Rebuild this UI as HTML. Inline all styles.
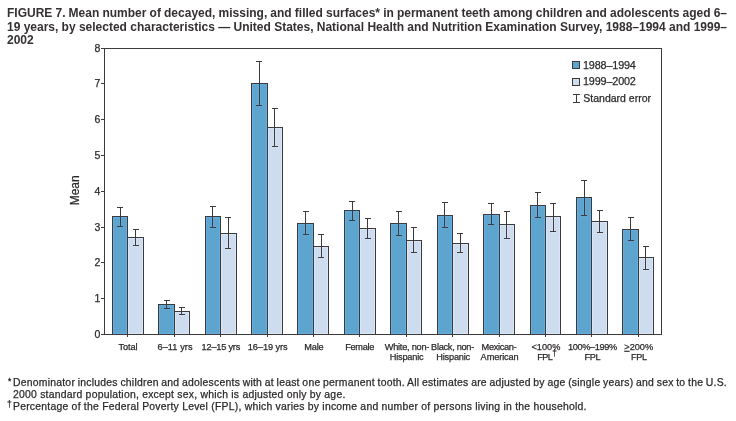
<!DOCTYPE html>
<html><head><meta charset="utf-8"><style>
html,body{margin:0;padding:0;background:#fff;width:736px;height:421px;overflow:hidden}
body{position:relative;font-family:"Liberation Sans",sans-serif;color:#2c292a;-webkit-font-smoothing:antialiased}
.title,.fn,.fm,svg{will-change:transform}
.title{color:#353132;position:absolute;left:7px;top:7.2px;width:720px;word-spacing:-0.5px;font-weight:bold;font-size:12px;line-height:13.5px;}
.j{text-align:justify;text-align-last:justify;white-space:nowrap}
.fn{position:absolute;left:13px;-webkit-text-stroke:0.25px #2c292a;width:714px;font-size:10.4px;letter-spacing:0.235px;line-height:11.8px}
.fm{position:absolute;left:7.5px;font-size:10px}
svg{position:absolute;left:0;top:0}
svg text{font-family:"Liberation Sans",sans-serif;fill:#2c292a}
.xl{font-size:9.2px;stroke:#2c292a;stroke-width:0.25px}
.yl{font-size:10.5px;stroke:#2c292a;stroke-width:0.25px}
.mean{font-size:12px;stroke:#2c292a;stroke-width:0.25px}
.lg{font-size:10.5px;stroke:#2c292a;stroke-width:0.25px}
.yr{font-size:10.8px;letter-spacing:-0.15px}
</style></head><body>
<div class="title"><div class="j">FIGURE 7. Mean number of decayed, missing, and filled surfaces* in permanent teeth among children and adolescents aged 6–</div><div class="j">19 years, by selected characteristics — United States, National Health and Nutrition Examination Survey, 1988–1994 and 1999–</div><div>2002</div></div>
<svg width="736" height="421" viewBox="0 0 736 421" shape-rendering="crispEdges">
<rect x="113" y="217" width="14" height="117" fill="#5da4cf"/>
<rect x="128" y="238" width="15" height="96" fill="#cddcee"/>
<rect x="113" y="217" width="1" height="117" fill="#63ade0"/>
<rect x="126" y="217" width="1" height="117" fill="#63ade0"/>
<rect x="128" y="238" width="1" height="96" fill="#d9e6f5"/>
<rect x="142" y="238" width="1" height="96" fill="#d9e6f5"/>
<rect x="113" y="217" width="14" height="1" fill="#63ade0"/>
<rect x="113" y="333" width="14" height="1" fill="#63ade0"/>
<rect x="128" y="238" width="15" height="1" fill="#d9e6f5"/>
<rect x="128" y="333" width="15" height="1" fill="#d9e6f5"/>
<rect x="112" y="216" width="1" height="119" fill="#3e393b"/>
<rect x="127" y="216" width="1" height="121" fill="#3e393b"/>
<rect x="143" y="237" width="1" height="98" fill="#3e393b"/>
<rect x="112" y="216" width="16" height="1" fill="#3e393b"/>
<rect x="127" y="237" width="17" height="1" fill="#3e393b"/>
<rect x="119" y="218" width="1" height="9" fill="#60a9d8"/>
<rect x="121" y="218" width="1" height="9" fill="#60a9d8"/>
<rect x="117" y="225" width="6" height="1" fill="#60a9d8"/>
<rect x="117" y="227" width="6" height="1" fill="#60a9d8"/>
<rect x="120" y="207" width="1" height="20" fill="#3e393b"/>
<rect x="117" y="207" width="6" height="1" fill="#3e393b"/>
<rect x="117" y="226" width="6" height="1" fill="#3e393b"/>
<rect x="134" y="239" width="1" height="7" fill="#d3e1f2"/>
<rect x="136" y="239" width="1" height="7" fill="#d3e1f2"/>
<rect x="133" y="244" width="6" height="1" fill="#d3e1f2"/>
<rect x="133" y="246" width="6" height="1" fill="#d3e1f2"/>
<rect x="135" y="229" width="1" height="17" fill="#3e393b"/>
<rect x="133" y="229" width="6" height="1" fill="#3e393b"/>
<rect x="133" y="245" width="6" height="1" fill="#3e393b"/>
<text x="128.05" y="349.9" text-anchor="middle" textLength="18.90" lengthAdjust="spacing" class="xl">Total</text>
<rect x="159" y="305" width="15" height="29" fill="#5da4cf"/>
<rect x="175" y="312" width="14" height="22" fill="#cddcee"/>
<rect x="159" y="305" width="1" height="29" fill="#63ade0"/>
<rect x="173" y="305" width="1" height="29" fill="#63ade0"/>
<rect x="175" y="312" width="1" height="22" fill="#d9e6f5"/>
<rect x="188" y="312" width="1" height="22" fill="#d9e6f5"/>
<rect x="159" y="305" width="15" height="1" fill="#63ade0"/>
<rect x="159" y="333" width="15" height="1" fill="#63ade0"/>
<rect x="175" y="312" width="14" height="1" fill="#d9e6f5"/>
<rect x="175" y="333" width="14" height="1" fill="#d9e6f5"/>
<rect x="158" y="304" width="1" height="31" fill="#3e393b"/>
<rect x="174" y="304" width="1" height="33" fill="#3e393b"/>
<rect x="189" y="311" width="1" height="24" fill="#3e393b"/>
<rect x="158" y="304" width="17" height="1" fill="#3e393b"/>
<rect x="174" y="311" width="16" height="1" fill="#3e393b"/>
<rect x="165" y="306" width="1" height="3" fill="#60a9d8"/>
<rect x="167" y="306" width="1" height="3" fill="#60a9d8"/>
<rect x="164" y="307" width="6" height="1" fill="#60a9d8"/>
<rect x="164" y="309" width="6" height="1" fill="#60a9d8"/>
<rect x="166" y="300" width="1" height="9" fill="#3e393b"/>
<rect x="164" y="300" width="6" height="1" fill="#3e393b"/>
<rect x="164" y="308" width="6" height="1" fill="#3e393b"/>
<rect x="180" y="313" width="1" height="2" fill="#d3e1f2"/>
<rect x="182" y="313" width="1" height="2" fill="#d3e1f2"/>
<rect x="179" y="313" width="6" height="1" fill="#d3e1f2"/>
<rect x="179" y="315" width="6" height="1" fill="#d3e1f2"/>
<rect x="181" y="307" width="1" height="8" fill="#3e393b"/>
<rect x="179" y="307" width="6" height="1" fill="#3e393b"/>
<rect x="179" y="314" width="6" height="1" fill="#3e393b"/>
<text x="175.00" y="349.9" text-anchor="middle" textLength="35.00" lengthAdjust="spacing" class="xl">6–11 yrs</text>
<rect x="206" y="217" width="14" height="117" fill="#5da4cf"/>
<rect x="221" y="234" width="15" height="100" fill="#cddcee"/>
<rect x="206" y="217" width="1" height="117" fill="#63ade0"/>
<rect x="219" y="217" width="1" height="117" fill="#63ade0"/>
<rect x="221" y="234" width="1" height="100" fill="#d9e6f5"/>
<rect x="235" y="234" width="1" height="100" fill="#d9e6f5"/>
<rect x="206" y="217" width="14" height="1" fill="#63ade0"/>
<rect x="206" y="333" width="14" height="1" fill="#63ade0"/>
<rect x="221" y="234" width="15" height="1" fill="#d9e6f5"/>
<rect x="221" y="333" width="15" height="1" fill="#d9e6f5"/>
<rect x="205" y="216" width="1" height="119" fill="#3e393b"/>
<rect x="220" y="216" width="1" height="121" fill="#3e393b"/>
<rect x="236" y="233" width="1" height="102" fill="#3e393b"/>
<rect x="205" y="216" width="16" height="1" fill="#3e393b"/>
<rect x="220" y="233" width="17" height="1" fill="#3e393b"/>
<rect x="211" y="218" width="1" height="10" fill="#60a9d8"/>
<rect x="213" y="218" width="1" height="10" fill="#60a9d8"/>
<rect x="210" y="226" width="6" height="1" fill="#60a9d8"/>
<rect x="210" y="228" width="6" height="1" fill="#60a9d8"/>
<rect x="212" y="206" width="1" height="22" fill="#3e393b"/>
<rect x="210" y="206" width="6" height="1" fill="#3e393b"/>
<rect x="210" y="227" width="6" height="1" fill="#3e393b"/>
<rect x="227" y="235" width="1" height="14" fill="#d3e1f2"/>
<rect x="229" y="235" width="1" height="14" fill="#d3e1f2"/>
<rect x="225" y="247" width="6" height="1" fill="#d3e1f2"/>
<rect x="225" y="249" width="6" height="1" fill="#d3e1f2"/>
<rect x="228" y="217" width="1" height="32" fill="#3e393b"/>
<rect x="225" y="217" width="6" height="1" fill="#3e393b"/>
<rect x="225" y="248" width="6" height="1" fill="#3e393b"/>
<text x="220.95" y="349.9" text-anchor="middle" textLength="38.70" lengthAdjust="spacing" class="xl">12–15 yrs</text>
<rect x="252" y="84" width="15" height="250" fill="#5da4cf"/>
<rect x="268" y="128" width="14" height="206" fill="#cddcee"/>
<rect x="252" y="84" width="1" height="250" fill="#63ade0"/>
<rect x="266" y="84" width="1" height="250" fill="#63ade0"/>
<rect x="268" y="128" width="1" height="206" fill="#d9e6f5"/>
<rect x="281" y="128" width="1" height="206" fill="#d9e6f5"/>
<rect x="252" y="84" width="15" height="1" fill="#63ade0"/>
<rect x="252" y="333" width="15" height="1" fill="#63ade0"/>
<rect x="268" y="128" width="14" height="1" fill="#d9e6f5"/>
<rect x="268" y="333" width="14" height="1" fill="#d9e6f5"/>
<rect x="251" y="83" width="1" height="252" fill="#3e393b"/>
<rect x="267" y="83" width="1" height="254" fill="#3e393b"/>
<rect x="282" y="127" width="1" height="208" fill="#3e393b"/>
<rect x="251" y="83" width="17" height="1" fill="#3e393b"/>
<rect x="267" y="127" width="16" height="1" fill="#3e393b"/>
<rect x="258" y="85" width="1" height="21" fill="#60a9d8"/>
<rect x="260" y="85" width="1" height="21" fill="#60a9d8"/>
<rect x="256" y="104" width="6" height="1" fill="#60a9d8"/>
<rect x="256" y="106" width="6" height="1" fill="#60a9d8"/>
<rect x="259" y="61" width="1" height="45" fill="#3e393b"/>
<rect x="256" y="61" width="6" height="1" fill="#3e393b"/>
<rect x="256" y="105" width="6" height="1" fill="#3e393b"/>
<rect x="273" y="129" width="1" height="18" fill="#d3e1f2"/>
<rect x="275" y="129" width="1" height="18" fill="#d3e1f2"/>
<rect x="272" y="145" width="6" height="1" fill="#d3e1f2"/>
<rect x="272" y="147" width="6" height="1" fill="#d3e1f2"/>
<rect x="274" y="108" width="1" height="39" fill="#3e393b"/>
<rect x="272" y="108" width="6" height="1" fill="#3e393b"/>
<rect x="272" y="146" width="6" height="1" fill="#3e393b"/>
<text x="267.70" y="349.9" text-anchor="middle" textLength="39.80" lengthAdjust="spacing" class="xl">16–19 yrs</text>
<rect x="298" y="224" width="15" height="110" fill="#5da4cf"/>
<rect x="314" y="247" width="14" height="87" fill="#cddcee"/>
<rect x="298" y="224" width="1" height="110" fill="#63ade0"/>
<rect x="312" y="224" width="1" height="110" fill="#63ade0"/>
<rect x="314" y="247" width="1" height="87" fill="#d9e6f5"/>
<rect x="327" y="247" width="1" height="87" fill="#d9e6f5"/>
<rect x="298" y="224" width="15" height="1" fill="#63ade0"/>
<rect x="298" y="333" width="15" height="1" fill="#63ade0"/>
<rect x="314" y="247" width="14" height="1" fill="#d9e6f5"/>
<rect x="314" y="333" width="14" height="1" fill="#d9e6f5"/>
<rect x="297" y="223" width="1" height="112" fill="#3e393b"/>
<rect x="313" y="223" width="1" height="114" fill="#3e393b"/>
<rect x="328" y="246" width="1" height="89" fill="#3e393b"/>
<rect x="297" y="223" width="17" height="1" fill="#3e393b"/>
<rect x="313" y="246" width="16" height="1" fill="#3e393b"/>
<rect x="304" y="225" width="1" height="10" fill="#60a9d8"/>
<rect x="306" y="225" width="1" height="10" fill="#60a9d8"/>
<rect x="303" y="233" width="6" height="1" fill="#60a9d8"/>
<rect x="303" y="235" width="6" height="1" fill="#60a9d8"/>
<rect x="305" y="211" width="1" height="24" fill="#3e393b"/>
<rect x="303" y="211" width="6" height="1" fill="#3e393b"/>
<rect x="303" y="234" width="6" height="1" fill="#3e393b"/>
<rect x="320" y="248" width="1" height="10" fill="#d3e1f2"/>
<rect x="322" y="248" width="1" height="10" fill="#d3e1f2"/>
<rect x="318" y="256" width="6" height="1" fill="#d3e1f2"/>
<rect x="318" y="258" width="6" height="1" fill="#d3e1f2"/>
<rect x="321" y="234" width="1" height="24" fill="#3e393b"/>
<rect x="318" y="234" width="6" height="1" fill="#3e393b"/>
<rect x="318" y="257" width="6" height="1" fill="#3e393b"/>
<text x="313.95" y="349.9" text-anchor="middle" textLength="19.30" lengthAdjust="spacing" class="xl">Male</text>
<rect x="345" y="211" width="14" height="123" fill="#5da4cf"/>
<rect x="360" y="229" width="15" height="105" fill="#cddcee"/>
<rect x="345" y="211" width="1" height="123" fill="#63ade0"/>
<rect x="358" y="211" width="1" height="123" fill="#63ade0"/>
<rect x="360" y="229" width="1" height="105" fill="#d9e6f5"/>
<rect x="374" y="229" width="1" height="105" fill="#d9e6f5"/>
<rect x="345" y="211" width="14" height="1" fill="#63ade0"/>
<rect x="345" y="333" width="14" height="1" fill="#63ade0"/>
<rect x="360" y="229" width="15" height="1" fill="#d9e6f5"/>
<rect x="360" y="333" width="15" height="1" fill="#d9e6f5"/>
<rect x="344" y="210" width="1" height="125" fill="#3e393b"/>
<rect x="359" y="210" width="1" height="127" fill="#3e393b"/>
<rect x="375" y="228" width="1" height="107" fill="#3e393b"/>
<rect x="344" y="210" width="16" height="1" fill="#3e393b"/>
<rect x="359" y="228" width="17" height="1" fill="#3e393b"/>
<rect x="351" y="212" width="1" height="9" fill="#60a9d8"/>
<rect x="353" y="212" width="1" height="9" fill="#60a9d8"/>
<rect x="349" y="219" width="6" height="1" fill="#60a9d8"/>
<rect x="349" y="221" width="6" height="1" fill="#60a9d8"/>
<rect x="352" y="201" width="1" height="20" fill="#3e393b"/>
<rect x="349" y="201" width="6" height="1" fill="#3e393b"/>
<rect x="349" y="220" width="6" height="1" fill="#3e393b"/>
<rect x="366" y="230" width="1" height="9" fill="#d3e1f2"/>
<rect x="368" y="230" width="1" height="9" fill="#d3e1f2"/>
<rect x="365" y="237" width="6" height="1" fill="#d3e1f2"/>
<rect x="365" y="239" width="6" height="1" fill="#d3e1f2"/>
<rect x="367" y="218" width="1" height="21" fill="#3e393b"/>
<rect x="365" y="218" width="6" height="1" fill="#3e393b"/>
<rect x="365" y="238" width="6" height="1" fill="#3e393b"/>
<text x="359.80" y="349.9" text-anchor="middle" textLength="29.20" lengthAdjust="spacing" class="xl">Female</text>
<rect x="391" y="224" width="15" height="110" fill="#5da4cf"/>
<rect x="407" y="241" width="14" height="93" fill="#cddcee"/>
<rect x="391" y="224" width="1" height="110" fill="#63ade0"/>
<rect x="405" y="224" width="1" height="110" fill="#63ade0"/>
<rect x="407" y="241" width="1" height="93" fill="#d9e6f5"/>
<rect x="420" y="241" width="1" height="93" fill="#d9e6f5"/>
<rect x="391" y="224" width="15" height="1" fill="#63ade0"/>
<rect x="391" y="333" width="15" height="1" fill="#63ade0"/>
<rect x="407" y="241" width="14" height="1" fill="#d9e6f5"/>
<rect x="407" y="333" width="14" height="1" fill="#d9e6f5"/>
<rect x="390" y="223" width="1" height="112" fill="#3e393b"/>
<rect x="406" y="223" width="1" height="114" fill="#3e393b"/>
<rect x="421" y="240" width="1" height="95" fill="#3e393b"/>
<rect x="390" y="223" width="17" height="1" fill="#3e393b"/>
<rect x="406" y="240" width="16" height="1" fill="#3e393b"/>
<rect x="397" y="225" width="1" height="11" fill="#60a9d8"/>
<rect x="399" y="225" width="1" height="11" fill="#60a9d8"/>
<rect x="396" y="234" width="6" height="1" fill="#60a9d8"/>
<rect x="396" y="236" width="6" height="1" fill="#60a9d8"/>
<rect x="398" y="211" width="1" height="25" fill="#3e393b"/>
<rect x="396" y="211" width="6" height="1" fill="#3e393b"/>
<rect x="396" y="235" width="6" height="1" fill="#3e393b"/>
<rect x="412" y="242" width="1" height="11" fill="#d3e1f2"/>
<rect x="414" y="242" width="1" height="11" fill="#d3e1f2"/>
<rect x="411" y="251" width="6" height="1" fill="#d3e1f2"/>
<rect x="411" y="253" width="6" height="1" fill="#d3e1f2"/>
<rect x="413" y="227" width="1" height="26" fill="#3e393b"/>
<rect x="411" y="227" width="6" height="1" fill="#3e393b"/>
<rect x="411" y="252" width="6" height="1" fill="#3e393b"/>
<text x="407.05" y="349.9" text-anchor="middle" textLength="44.70" lengthAdjust="spacing" class="xl">White, non-</text>
<text x="406.70" y="360.1" text-anchor="middle" textLength="34.00" lengthAdjust="spacing" class="xl">Hispanic</text>
<rect x="438" y="216" width="14" height="118" fill="#5da4cf"/>
<rect x="453" y="244" width="15" height="90" fill="#cddcee"/>
<rect x="438" y="216" width="1" height="118" fill="#63ade0"/>
<rect x="451" y="216" width="1" height="118" fill="#63ade0"/>
<rect x="453" y="244" width="1" height="90" fill="#d9e6f5"/>
<rect x="467" y="244" width="1" height="90" fill="#d9e6f5"/>
<rect x="438" y="216" width="14" height="1" fill="#63ade0"/>
<rect x="438" y="333" width="14" height="1" fill="#63ade0"/>
<rect x="453" y="244" width="15" height="1" fill="#d9e6f5"/>
<rect x="453" y="333" width="15" height="1" fill="#d9e6f5"/>
<rect x="437" y="215" width="1" height="120" fill="#3e393b"/>
<rect x="452" y="215" width="1" height="122" fill="#3e393b"/>
<rect x="468" y="243" width="1" height="92" fill="#3e393b"/>
<rect x="437" y="215" width="16" height="1" fill="#3e393b"/>
<rect x="452" y="243" width="17" height="1" fill="#3e393b"/>
<rect x="443" y="217" width="1" height="11" fill="#60a9d8"/>
<rect x="445" y="217" width="1" height="11" fill="#60a9d8"/>
<rect x="442" y="226" width="6" height="1" fill="#60a9d8"/>
<rect x="442" y="228" width="6" height="1" fill="#60a9d8"/>
<rect x="444" y="202" width="1" height="26" fill="#3e393b"/>
<rect x="442" y="202" width="6" height="1" fill="#3e393b"/>
<rect x="442" y="227" width="6" height="1" fill="#3e393b"/>
<rect x="459" y="245" width="1" height="8" fill="#d3e1f2"/>
<rect x="461" y="245" width="1" height="8" fill="#d3e1f2"/>
<rect x="457" y="251" width="6" height="1" fill="#d3e1f2"/>
<rect x="457" y="253" width="6" height="1" fill="#d3e1f2"/>
<rect x="460" y="233" width="1" height="20" fill="#3e393b"/>
<rect x="457" y="233" width="6" height="1" fill="#3e393b"/>
<rect x="457" y="252" width="6" height="1" fill="#3e393b"/>
<text x="452.68" y="349.9" text-anchor="middle" textLength="43.15" lengthAdjust="spacing" class="xl">Black, non-</text>
<text x="453.25" y="360.1" text-anchor="middle" textLength="33.90" lengthAdjust="spacing" class="xl">Hispanic</text>
<rect x="484" y="215" width="15" height="119" fill="#5da4cf"/>
<rect x="500" y="225" width="14" height="109" fill="#cddcee"/>
<rect x="484" y="215" width="1" height="119" fill="#63ade0"/>
<rect x="498" y="215" width="1" height="119" fill="#63ade0"/>
<rect x="500" y="225" width="1" height="109" fill="#d9e6f5"/>
<rect x="513" y="225" width="1" height="109" fill="#d9e6f5"/>
<rect x="484" y="215" width="15" height="1" fill="#63ade0"/>
<rect x="484" y="333" width="15" height="1" fill="#63ade0"/>
<rect x="500" y="225" width="14" height="1" fill="#d9e6f5"/>
<rect x="500" y="333" width="14" height="1" fill="#d9e6f5"/>
<rect x="483" y="214" width="1" height="121" fill="#3e393b"/>
<rect x="499" y="214" width="1" height="123" fill="#3e393b"/>
<rect x="514" y="224" width="1" height="111" fill="#3e393b"/>
<rect x="483" y="214" width="17" height="1" fill="#3e393b"/>
<rect x="499" y="224" width="16" height="1" fill="#3e393b"/>
<rect x="490" y="216" width="1" height="9" fill="#60a9d8"/>
<rect x="492" y="216" width="1" height="9" fill="#60a9d8"/>
<rect x="488" y="223" width="6" height="1" fill="#60a9d8"/>
<rect x="488" y="225" width="6" height="1" fill="#60a9d8"/>
<rect x="491" y="203" width="1" height="22" fill="#3e393b"/>
<rect x="488" y="203" width="6" height="1" fill="#3e393b"/>
<rect x="488" y="224" width="6" height="1" fill="#3e393b"/>
<rect x="505" y="226" width="1" height="13" fill="#d3e1f2"/>
<rect x="507" y="226" width="1" height="13" fill="#d3e1f2"/>
<rect x="504" y="237" width="6" height="1" fill="#d3e1f2"/>
<rect x="504" y="239" width="6" height="1" fill="#d3e1f2"/>
<rect x="506" y="211" width="1" height="28" fill="#3e393b"/>
<rect x="504" y="211" width="6" height="1" fill="#3e393b"/>
<rect x="504" y="238" width="6" height="1" fill="#3e393b"/>
<text x="499.05" y="349.9" text-anchor="middle" textLength="34.90" lengthAdjust="spacing" class="xl">Mexican-</text>
<text x="499.65" y="360.1" text-anchor="middle" textLength="38.10" lengthAdjust="spacing" class="xl">American</text>
<rect x="531" y="206" width="14" height="128" fill="#5da4cf"/>
<rect x="546" y="217" width="14" height="117" fill="#cddcee"/>
<rect x="531" y="206" width="1" height="128" fill="#63ade0"/>
<rect x="544" y="206" width="1" height="128" fill="#63ade0"/>
<rect x="546" y="217" width="1" height="117" fill="#d9e6f5"/>
<rect x="559" y="217" width="1" height="117" fill="#d9e6f5"/>
<rect x="531" y="206" width="14" height="1" fill="#63ade0"/>
<rect x="531" y="333" width="14" height="1" fill="#63ade0"/>
<rect x="546" y="217" width="14" height="1" fill="#d9e6f5"/>
<rect x="546" y="333" width="14" height="1" fill="#d9e6f5"/>
<rect x="530" y="205" width="1" height="130" fill="#3e393b"/>
<rect x="545" y="205" width="1" height="132" fill="#3e393b"/>
<rect x="560" y="216" width="1" height="119" fill="#3e393b"/>
<rect x="530" y="205" width="16" height="1" fill="#3e393b"/>
<rect x="545" y="216" width="16" height="1" fill="#3e393b"/>
<rect x="536" y="207" width="1" height="11" fill="#60a9d8"/>
<rect x="538" y="207" width="1" height="11" fill="#60a9d8"/>
<rect x="535" y="216" width="6" height="1" fill="#60a9d8"/>
<rect x="535" y="218" width="6" height="1" fill="#60a9d8"/>
<rect x="537" y="192" width="1" height="26" fill="#3e393b"/>
<rect x="535" y="192" width="6" height="1" fill="#3e393b"/>
<rect x="535" y="217" width="6" height="1" fill="#3e393b"/>
<rect x="552" y="218" width="1" height="14" fill="#d3e1f2"/>
<rect x="554" y="218" width="1" height="14" fill="#d3e1f2"/>
<rect x="550" y="230" width="6" height="1" fill="#d3e1f2"/>
<rect x="550" y="232" width="6" height="1" fill="#d3e1f2"/>
<rect x="553" y="203" width="1" height="29" fill="#3e393b"/>
<rect x="550" y="203" width="6" height="1" fill="#3e393b"/>
<rect x="550" y="231" width="6" height="1" fill="#3e393b"/>
<text x="545.95" y="349.9" text-anchor="middle" textLength="28.90" lengthAdjust="spacing" class="xl">&lt;100%</text>
<text x="547.05" y="360.1" text-anchor="middle" textLength="19.50" lengthAdjust="spacing" class="xl">FPL<tspan dy='-4.6' font-size='8.4'>†</tspan></text>
<rect x="577" y="198" width="14" height="136" fill="#5da4cf"/>
<rect x="592" y="222" width="15" height="112" fill="#cddcee"/>
<rect x="577" y="198" width="1" height="136" fill="#63ade0"/>
<rect x="590" y="198" width="1" height="136" fill="#63ade0"/>
<rect x="592" y="222" width="1" height="112" fill="#d9e6f5"/>
<rect x="606" y="222" width="1" height="112" fill="#d9e6f5"/>
<rect x="577" y="198" width="14" height="1" fill="#63ade0"/>
<rect x="577" y="333" width="14" height="1" fill="#63ade0"/>
<rect x="592" y="222" width="15" height="1" fill="#d9e6f5"/>
<rect x="592" y="333" width="15" height="1" fill="#d9e6f5"/>
<rect x="576" y="197" width="1" height="138" fill="#3e393b"/>
<rect x="591" y="197" width="1" height="140" fill="#3e393b"/>
<rect x="607" y="221" width="1" height="114" fill="#3e393b"/>
<rect x="576" y="197" width="16" height="1" fill="#3e393b"/>
<rect x="591" y="221" width="17" height="1" fill="#3e393b"/>
<rect x="583" y="199" width="1" height="17" fill="#60a9d8"/>
<rect x="585" y="199" width="1" height="17" fill="#60a9d8"/>
<rect x="581" y="214" width="6" height="1" fill="#60a9d8"/>
<rect x="581" y="216" width="6" height="1" fill="#60a9d8"/>
<rect x="584" y="180" width="1" height="36" fill="#3e393b"/>
<rect x="581" y="180" width="6" height="1" fill="#3e393b"/>
<rect x="581" y="215" width="6" height="1" fill="#3e393b"/>
<rect x="598" y="223" width="1" height="10" fill="#d3e1f2"/>
<rect x="600" y="223" width="1" height="10" fill="#d3e1f2"/>
<rect x="597" y="231" width="6" height="1" fill="#d3e1f2"/>
<rect x="597" y="233" width="6" height="1" fill="#d3e1f2"/>
<rect x="599" y="210" width="1" height="23" fill="#3e393b"/>
<rect x="597" y="210" width="6" height="1" fill="#3e393b"/>
<rect x="597" y="232" width="6" height="1" fill="#3e393b"/>
<text x="592.50" y="349.9" text-anchor="middle" textLength="49.20" lengthAdjust="spacing" class="xl">100%–199%</text>
<text x="592.60" y="360.1" text-anchor="middle" textLength="16.20" lengthAdjust="spacing" class="xl">FPL</text>
<rect x="623" y="230" width="15" height="104" fill="#5da4cf"/>
<rect x="639" y="258" width="14" height="76" fill="#cddcee"/>
<rect x="623" y="230" width="1" height="104" fill="#63ade0"/>
<rect x="637" y="230" width="1" height="104" fill="#63ade0"/>
<rect x="639" y="258" width="1" height="76" fill="#d9e6f5"/>
<rect x="652" y="258" width="1" height="76" fill="#d9e6f5"/>
<rect x="623" y="230" width="15" height="1" fill="#63ade0"/>
<rect x="623" y="333" width="15" height="1" fill="#63ade0"/>
<rect x="639" y="258" width="14" height="1" fill="#d9e6f5"/>
<rect x="639" y="333" width="14" height="1" fill="#d9e6f5"/>
<rect x="622" y="229" width="1" height="106" fill="#3e393b"/>
<rect x="638" y="229" width="1" height="108" fill="#3e393b"/>
<rect x="653" y="257" width="1" height="78" fill="#3e393b"/>
<rect x="622" y="229" width="17" height="1" fill="#3e393b"/>
<rect x="638" y="257" width="16" height="1" fill="#3e393b"/>
<rect x="629" y="231" width="1" height="10" fill="#60a9d8"/>
<rect x="631" y="231" width="1" height="10" fill="#60a9d8"/>
<rect x="628" y="239" width="6" height="1" fill="#60a9d8"/>
<rect x="628" y="241" width="6" height="1" fill="#60a9d8"/>
<rect x="630" y="217" width="1" height="24" fill="#3e393b"/>
<rect x="628" y="217" width="6" height="1" fill="#3e393b"/>
<rect x="628" y="240" width="6" height="1" fill="#3e393b"/>
<rect x="644" y="259" width="1" height="11" fill="#d3e1f2"/>
<rect x="646" y="259" width="1" height="11" fill="#d3e1f2"/>
<rect x="643" y="268" width="6" height="1" fill="#d3e1f2"/>
<rect x="643" y="270" width="6" height="1" fill="#d3e1f2"/>
<rect x="645" y="246" width="1" height="24" fill="#3e393b"/>
<rect x="643" y="246" width="6" height="1" fill="#3e393b"/>
<rect x="643" y="269" width="6" height="1" fill="#3e393b"/>
<text x="638.70" y="349.9" text-anchor="middle" textLength="28.80" lengthAdjust="spacing" class="xl"><tspan text-decoration='underline'>&gt;</tspan>200%</text>
<text x="639.05" y="360.1" text-anchor="middle" textLength="15.90" lengthAdjust="spacing" class="xl">FPL</text>
<rect x="104" y="48" width="1" height="287" fill="#3e393b"/>
<rect x="661" y="48" width="1" height="287" fill="#3e393b"/>
<rect x="104" y="48" width="558" height="1" fill="#3e393b"/>
<rect x="104" y="334" width="558" height="1" fill="#3e393b"/>
<rect x="101" y="334" width="4" height="1" fill="#3e393b"/>
<text x="100.3" y="338.10" text-anchor="end" class="yl">0</text>
<rect x="101" y="298" width="4" height="1" fill="#3e393b"/>
<text x="100.3" y="302.10" text-anchor="end" class="yl">1</text>
<rect x="101" y="262" width="4" height="1" fill="#3e393b"/>
<text x="100.3" y="266.10" text-anchor="end" class="yl">2</text>
<rect x="101" y="227" width="4" height="1" fill="#3e393b"/>
<text x="100.3" y="231.10" text-anchor="end" class="yl">3</text>
<rect x="101" y="191" width="4" height="1" fill="#3e393b"/>
<text x="100.3" y="195.10" text-anchor="end" class="yl">4</text>
<rect x="101" y="155" width="4" height="1" fill="#3e393b"/>
<text x="100.3" y="159.10" text-anchor="end" class="yl">5</text>
<rect x="101" y="119" width="4" height="1" fill="#3e393b"/>
<text x="100.3" y="123.10" text-anchor="end" class="yl">6</text>
<rect x="101" y="83" width="4" height="1" fill="#3e393b"/>
<text x="100.3" y="87.10" text-anchor="end" class="yl">7</text>
<rect x="101" y="48" width="4" height="1" fill="#3e393b"/>
<text x="100.3" y="52.10" text-anchor="end" class="yl">8</text>
<text transform="translate(78.9 190.3) rotate(-90)" text-anchor="middle" textLength="30" lengthAdjust="spacing" class="mean">Mean</text>
<rect x="572.5" y="61.5" width="7" height="7" fill="#5da4cf" stroke="#3e393b"/>
<rect x="572.5" y="78.5" width="7" height="7" fill="#cddcee" stroke="#3e393b"/>
<rect x="576" y="94" width="1" height="9" fill="#3e393b"/>
<rect x="573" y="94" width="7" height="1" fill="#3e393b"/>
<rect x="573" y="102" width="7" height="1" fill="#3e393b"/>
<text x="583" y="68.8" class="lg yr">1988–1994</text>
<text x="583" y="85" class="lg yr">1999–2002</text>
<text x="583.3" y="101.9" class="lg">Standard error</text>
</svg>
<div class="fm" style="top:375.8px;font-size:8.5px;left:7.5px;-webkit-text-stroke:0.3px #2c292a">*</div>
<div class="fn" style="top:377.1px"><div class="j" style="word-spacing:-1px">Denominator includes children and adolescents with at least one permanent tooth. All estimates are adjusted by age (single years) and sex to the U.S.</div><div>2000 standard population, except sex, which is adjusted only by age.</div></div>
<div class="fm" style="top:398.6px;font-size:8.5px;left:7.4px;-webkit-text-stroke:0.25px #2c292a">†</div>
<div class="fn" style="top:400.7px">Percentage of the Federal Poverty Level (FPL), which varies by income and number of persons living in the household.</div>
</body></html>
